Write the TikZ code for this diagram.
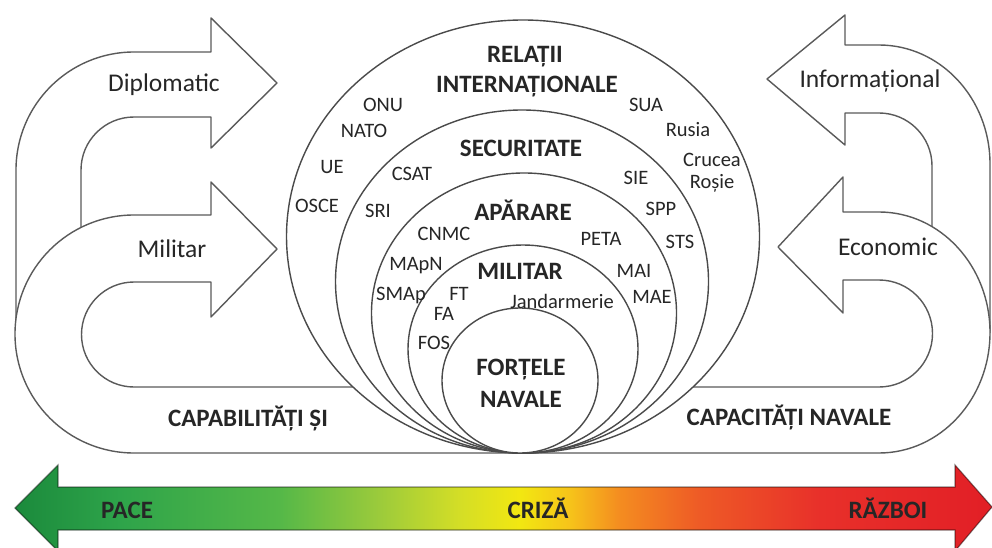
\documentclass[tikz,border=0pt]{standalone}
\usepackage{fontspec}
\setmainfont{Carlito}
\usetikzlibrary{calc}

\definecolor{ink}{HTML}{262626}
\definecolor{edge}{HTML}{5A5A5A}
\definecolor{ringline}{HTML}{4A4A4A}
% colours of the peace--crisis--war scale
\definecolor{sc1}{HTML}{1B8A3C}
\definecolor{sc2}{HTML}{2EA44A}
\definecolor{sc3}{HTML}{55B848}
\definecolor{sc4}{HTML}{9CCB3B}
\definecolor{sc5}{HTML}{D4DE26}
\definecolor{sc6}{HTML}{F2E711}
\definecolor{sc7}{HTML}{F6C31A}
\definecolor{sc8}{HTML}{F48C20}
\definecolor{sc9}{HTML}{EE5A26}
\definecolor{sc10}{HTML}{E8302A}
\definecolor{sc11}{HTML}{E21F26}

\pgfdeclarehorizontalshading{peacewar}{100bp}{%
  color(0bp)=(sc1); color(25bp)=(sc1); color(30.37bp)=(sc2);
  color(38.56bp)=(sc3); color(43.68bp)=(sc4); color(47.77bp)=(sc5);
  color(50.84bp)=(sc6); color(53.40bp)=(sc7); color(55.96bp)=(sc8);
  color(60.06bp)=(sc9); color(66.20bp)=(sc10); color(75bp)=(sc11);
  color(100bp)=(sc11)}

\tikzset{
  band/.style={draw=edge, line width=1.4pt, fill=white, line join=round},
  ringshape/.style={draw=ringline, line width=1.4pt, fill=white},
  lbl/.style={text=ink, inner sep=0pt, anchor=base},
  smalllbl/.style={lbl, font=\fontsize{20.5}{22}\selectfont},
  sidelbl/.style={lbl, font=\fontsize{25.5}{28}\selectfont},
  headlbl/.style={lbl, font=\bfseries\fontsize{25}{27}\selectfont},
  scalelbl/.style={lbl, text=ink, font=\bfseries\fontsize{25}{27}\selectfont},
  scalebar/.style={shading=peacewar, draw=black, draw opacity=0.45, line width=1.2pt, line join=miter}
}

\begin{document}
\begin{tikzpicture}[x=1pt, y=-1pt]
\useasboundingbox (0,0) rectangle (992,548);
\fill[white] (0,0) rectangle (992,548);

% upper-left arrow (Diplomatic)
\draw[band] (16,334) -- (16,170) arc[start angle=180, end angle=270, radius=118]
  -- (211,52) -- (211,18) -- (277,83) -- (211,148) -- (211,117) -- (134,117)
  arc[start angle=270, end angle=180, radius=53] -- (81,250);

% upper-right arrow (Informational)
\draw[band] (990,333) -- (990,164) arc[start angle=0, end angle=-90, x radius=111, y radius=119]
  -- (845,45) -- (845,15) -- (767,79) -- (845,145) -- (845,113) -- (879,113)
  arc[start angle=-90, end angle=0, radius=53] -- (932,250);

% lower band: Militar arrow, bottom strip, Economic arrow
\draw[band] (277,249) -- (211,317) -- (211,282) -- (134,282)
  arc[start angle=270, end angle=90, radius=52.5]
  -- (879,387)
  arc[start angle=90, end angle=-90, radius=53.5]
  -- (843,280) -- (843,313) -- (778,247) -- (843,177) -- (843,212) -- (879,212)
  arc[start angle=-90, end angle=90, x radius=111, y radius=120.5]
  -- (134,453)
  arc[start angle=90, end angle=270, radius=119]
  -- (211,215) -- (211,182) -- cycle;

% nested domains, all touching the bottom line
\draw[ringshape] (523,236.5) ellipse[x radius=236.5, y radius=216.5];
\draw[ringshape] (522,281.5) ellipse[x radius=186.5, y radius=171.5];
\draw[ringshape] (524,313) ellipse[x radius=152.5, y radius=140];
\draw[ringshape] (523,349) ellipse[x radius=115, y radius=104];
\draw[ringshape] (520,380.5) ellipse[x radius=78, y radius=72.5];

% arrow labels
\node[sidelbl] (dipl) at (164,92) {Diplomatic};
\node[sidelbl] (milit) at (172,257) {Militar};
\node[sidelbl] (info) at (870,88) {Informațional};
\node[sidelbl] (econ) at (888,255) {Economic};
\node[headlbl] (capab) at (248,426) {CAPABILITĂȚI ȘI};
\node[headlbl] (capac) at (789,425) {CAPACITĂȚI NAVALE};

% domain titles
\node[headlbl] (rel1) at (525,63) {RELAȚII};
\node[headlbl] (rel2) at (527,93) {INTERNAȚIONALE};
\node[headlbl] (secur) at (521,157) {SECURITATE};
\node[headlbl] (apar) at (523,220) {APĂRARE};
\node[headlbl] (milt) at (520,279) {MILITAR};
\node[headlbl] (fn1) at (521,375) {FORȚELE};
\node[headlbl] (fn2) at (521,407) {NAVALE};

% actors
\node[smalllbl] (onu) at (383,112) {ONU};
\node[smalllbl] (nato) at (364,138) {NATO};
\node[smalllbl] (ue) at (332,174) {UE};
\node[smalllbl] (osce) at (317,212) {OSCE};
\node[smalllbl] (csat) at (412,180) {CSAT};
\node[smalllbl] (sri) at (378,217) {SRI};
\node[smalllbl] (cnmc) at (444,240) {CNMC};
\node[smalllbl] (mapn) at (416,270) {MApN};
\node[smalllbl] (smap) at (401,300) {SMAp};
\node[smalllbl] (ft) at (459,300) {FT};
\node[smalllbl] (fa) at (444,320) {FA};
\node[smalllbl] (fos) at (434,349) {FOS};
\node[smalllbl] (jand) at (562,308) {Jandarmerie};
\node[smalllbl] (peta) at (601,245) {PETA};
\node[smalllbl] (mai) at (634,277) {MAI};
\node[smalllbl] (mae) at (652,303) {MAE};
\node[smalllbl] (sie) at (636,185) {SIE};
\node[smalllbl] (spp) at (661,215) {SPP};
\node[smalllbl] (sts) at (680,248) {STS};
\node[smalllbl] (sua) at (646,112) {SUA};
\node[smalllbl] (rusia) at (688,137) {Rusia};
\node[smalllbl] (cruc1) at (712,167) {Crucea};
\node[smalllbl] (cruc2) at (712,188) {Roșie};

% peace - crisis - war scale
\draw[scalebar] (15,508) -- (58,465) -- (58,487) -- (955,487) -- (955,465) -- (992,507)
  -- (955,551) -- (955,530) -- (58,530) -- (58,551) -- cycle;
\node[scalelbl] (pace) at (127,518) {PACE};
\node[scalelbl] (criza) at (538,518) {CRIZĂ};
\node[scalelbl] (razboi) at (888,518) {RĂZBOI};
\end{tikzpicture}
\end{document}
